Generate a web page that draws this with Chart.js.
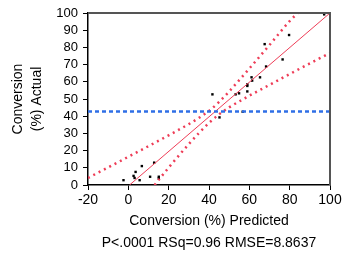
<!DOCTYPE html>
<html>
<head>
<meta charset="utf-8">
<script src="https://cdn.jsdelivr.net/npm/chart.js@4"></script>
<style>
html, body { margin: 0; padding: 0; background: #fff; }
</style>
</head>
<body>
<canvas id="fitChart" width="347" height="260"></canvas>
<script>
// Observed points: predicted vs actual conversion (%)
const predicted = [-2.4, 2.6, 3.1, 3.6, 5.6, 6.7, 10.8, 12.8, 15.1, 15.1,
    41.7, 45.2, 53.2, 54.9, 56.7, 59.0, 59.0, 59.0, 61.4, 61.1,
    65.3, 68.3, 67.6, 76.5, 79.7, 97.1];
const actual = [2.8, 5.3, 4.1, 7.6, 2.8, 11.0, 4.8, 13.0, 4.8, 3.8,
    52.7, 39.3, 52.7, 53.3, 42.6, 54.4, 57.6, 58.5, 60.7, 62.6,
    62.6, 68.9, 81.9, 73.0, 87.2, 99.2];

// Fit line and confidence curves
const fitX = [0.6, 100];
const fitY = [0, 100];
const upperX = [-20, 0, 20, 30, 35, 40, 45, 50, 60, 70, 80, 84];
const upperY = [4.1, 16.4, 28.9, 35.4, 39.0, 43.1, 48.3, 54.4, 67.7, 81.4, 95.3, 100];
const lowerX = [13, 20, 30, 35, 40, 45, 50, 60, 70, 80, 100];
const lowerY = [0, 10.1, 23.8, 30.2, 36.1, 41.1, 45.1, 51.9, 58.2, 64.5, 76.8];
const meanX = [-20, 100];
const meanY = [42.8, 42.8];

// Axis ticks
const xTicks = [-20, 0, 20, 40, 60, 80, 100];
const yTicks = [0, 10, 20, 30, 40, 50, 60, 70, 80, 90, 100];

const toPoints = (xs, ys) => xs.map((x, i) => ({ x: x, y: ys[i] }));

const redDots = {
    showLine: true,
    borderColor: '#ee3d57',
    borderWidth: 2.5,
    borderDash: [2, 4],
    pointRadius: 0,
    fill: false,
    cubicInterpolationMode: 'monotone'
};

// top and right frame lines
const framePlugin = {
    id: 'frame',
    afterDatasetsDraw(chart) {
        const a = chart.chartArea;
        const ctx = chart.ctx;
        ctx.save();
        ctx.strokeStyle = '#555';
        ctx.lineWidth = 2;
        ctx.beginPath();
        ctx.moveTo(a.left, a.top);
        ctx.lineTo(a.right, a.top);
        ctx.lineTo(a.right, a.bottom);
        ctx.stroke();
        ctx.restore();
    }
};

const font = 'Liberation Sans, Arial, sans-serif';

new Chart(document.getElementById('fitChart'), {
    type: 'scatter',
    data: {
        datasets: [{
            data: toPoints(meanX, meanY),
            showLine: true,
            borderColor: '#2f6fe6',
            borderWidth: 2.5,
            borderDash: [4, 3],
            pointRadius: 0
        }, {
            data: toPoints(fitX, fitY),
            showLine: true,
            borderColor: '#ee3d57',
            borderWidth: 1,
            pointRadius: 0
        }, Object.assign({ data: toPoints(upperX, upperY) }, redDots),
        Object.assign({ data: toPoints(lowerX, lowerY) }, redDots), {
            data: toPoints(predicted, actual),
            pointStyle: 'rect',
            pointRadius: 1.7,
            backgroundColor: '#000',
            borderColor: '#000',
            borderWidth: 0
        }]
    },
    options: {
        responsive: false,
        animation: false,
        layout: { padding: { top: 13, right: 17, left: 0, bottom: 0 } },
        plugins: {
            legend: { display: false },
            tooltip: { enabled: false },
            title: {
                display: true,
                position: 'bottom',
                fullSize: false,
                text: 'P<.0001 RSq=0.96 RMSE=8.8637',
                color: '#000',
                font: { family: font, size: 14, weight: 'normal', lineHeight: 1.2 },
                padding: { top: 0, bottom: 8 }
            }
        },
        scales: {
            x: {
                type: 'linear',
                min: -20,
                max: 100,
                afterBuildTicks: s => { s.ticks = xTicks.map(v => ({ value: v })); },
                afterFit: s => { s.height = 260 - 185 - 24.8; },
                grid: { drawOnChartArea: false, drawTicks: true, tickLength: 5, color: '#000' },
                border: { color: '#000', width: 1.5 },
                ticks: { color: '#000', padding: 2, maxRotation: 0, autoSkip: false, font: { family: font, size: 14 } },
                title: {
                    display: true,
                    text: 'Conversion (%) Predicted',
                    color: '#000',
                    font: { family: font, size: 14 },
                    padding: { top: 0, bottom: 6 }
                }
            },
            y: {
                type: 'linear',
                min: 0,
                max: 100,
                afterBuildTicks: s => { s.ticks = yTicks.map(v => ({ value: v })); },
                afterFit: s => { s.width = 88; },
                grid: { drawOnChartArea: false, drawTicks: true, tickLength: 5, color: '#000' },
                border: { color: '#000', width: 1.5 },
                ticks: { color: '#000', padding: 5, autoSkip: false, font: { family: font, size: 13 } },
                title: {
                    display: true,
                    text: ['Conversion', '(%) Actual'],
                    color: '#000',
                    font: { family: font, size: 14, lineHeight: 1.35 },
                    padding: { top: 9, bottom: 0 }
                }
            }
        }
    },
    plugins: [framePlugin]
});
</script>
</body>
</html>
